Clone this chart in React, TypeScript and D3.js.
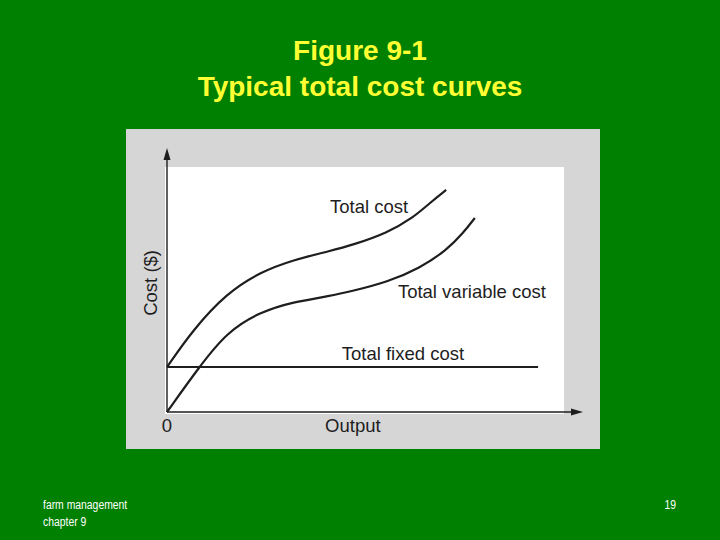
import React from "react";
import { scaleLinear, line, curveBasis } from "d3";

// readings (output 0-100, cost 0-100, arbitrary units)
const tcOutput = [0, 6.2, 14.4, 22.4, 30.3, 39.2, 44.7, 52.9, 59.1, 63.2, 67.1];
const tcCost = [17, 31.1, 45.1, 53, 57.6, 61, 63.3, 67.8, 73.5, 79.2, 84.1];
const tvcOutput = [0, 7.7, 14.4, 22.4, 30.3, 39.2, 44.7, 52.9, 60.8, 67.3, 71.2, 74];
const tvcCost = [0, 17, 30.3, 37.9, 41.7, 43.9, 45.9, 49.2, 54.5, 61.4, 67.8, 73.5];
const tfcOutput = [0, 89.2];
const tfcCost = [17, 17];

const curveLabels = ["Total cost", "Total variable cost", "Total fixed cost"];
const labelOutput = [39.2, 55.5, 42];
const labelCost = [75.4, 43.2, 19.7];

const W = 720;
const H = 540;
const font = "'Liberation Sans', Arial, sans-serif";
const ink = "#1e1e1e";

const App = () => {
  const x = scaleLinear().domain([0, 100]).range([167, 583]);
  const y = scaleLinear().domain([0, 100]).range([412, 148]);

  const path = line<[number, number]>()
    .x((d) => x(d[0]))
    .y((d) => y(d[1]))
    .curve(curveBasis);

  const zip = (a: number[], b: number[]) => a.map((v, i) => [v, b[i]] as [number, number]);
  const series = [zip(tcOutput, tcCost), zip(tvcOutput, tvcCost)];

  const x0 = x(0);
  const y0 = y(0);
  const xEnd = x(100);
  const yEnd = y(100);

  return (
    <svg width={W} height={H} style={{ position: "absolute", left: 0, top: 0, display: "block" }}>
      <rect width={W} height={H} fill="#008000" />

      <g fontFamily={font} fontWeight={700} fontSize={28} fill="#ffff33" textAnchor="middle">
        <text x={W / 2} y={60}>Figure 9-1</text>
        <text x={W / 2} y={96}>Typical total cost curves</text>
      </g>

      <rect x={126} y={129} width={474} height={320} fill="#d6d6d6" />
      <rect x={165} y={167} width={399} height={247} fill="#ffffff" />

      {/* axes */}
      <g stroke={ink} strokeWidth={1.4}>
        <line x1={x0} y1={y0} x2={x0} y2={yEnd + 10} />
        <line x1={x0} y1={y0} x2={xEnd - 10} y2={y0} />
      </g>
      <path d={`M${x0},${yEnd} L${x0 - 3.5},${yEnd + 12} L${x0 + 3.5},${yEnd + 12} Z`} fill={ink} />
      <path d={`M${xEnd},${y0} L${xEnd - 12},${y0 - 3.5} L${xEnd - 12},${y0 + 3.5} Z`} fill={ink} />

      {series.map((s, i) => (
        <path key={i} d={path(s) || ""} fill="none" stroke={ink} strokeWidth={2.2} />
      ))}
      <line
        x1={x(tfcOutput[0])}
        y1={y(tfcCost[0])}
        x2={x(tfcOutput[1])}
        y2={y(tfcCost[1])}
        stroke={ink}
        strokeWidth={2}
      />

      <g fontFamily={font} fontSize={18.5} fill={ink}>
        {curveLabels.map((t, i) => (
          <text key={t} x={x(labelOutput[i])} y={y(labelCost[i])}>{t}</text>
        ))}
        <text x={x(38)} y={y0 + 20}>Output</text>
        <text x={x0} y={y0 + 20} textAnchor="middle">0</text>
        <text transform={`translate(${x0 - 10},${y(48.9)}) rotate(-90)`} textAnchor="middle">Cost ($)</text>
      </g>

      <g fontFamily={font} fontSize={13.5} fill="#ffffff">
        <text transform="translate(43,509) scale(0.77,1)">farm management</text>
        <text transform="translate(43,526) scale(0.77,1)">chapter 9</text>
        <text transform="translate(676,509) scale(0.77,1)" textAnchor="end">19</text>
      </g>
    </svg>
  );
};

export default App;
